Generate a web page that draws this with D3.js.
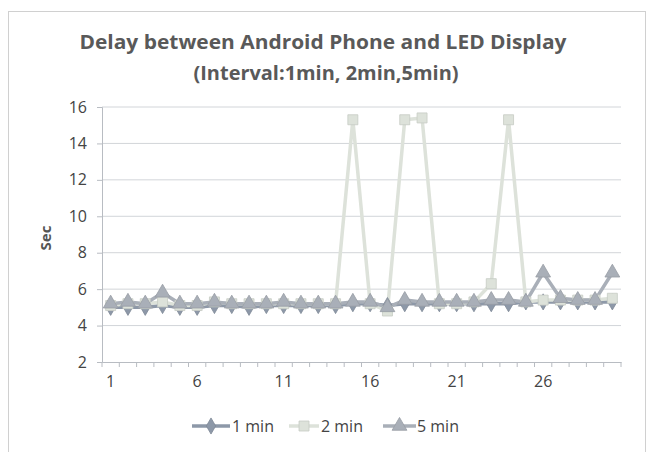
<!DOCTYPE html>
<html>
<head>
<meta charset="utf-8">
<script src="https://cdn.jsdelivr.net/npm/d3@7"></script>
<style>
  html, body { margin: 0; padding: 0; background: #fff; }
  svg { display: block; }
  text { font-family: "Open Sans", "Liberation Sans", sans-serif; }
</style>
</head>
<body>
<svg id="chart" width="647" height="452"></svg>
<script>
// Measurement index (1..30)
const categories = d3.range(1, 31);
const xTickLabels = [1, 6, 11, 16, 21, 26];
const yTicks = [2, 4, 6, 8, 10, 12, 14, 16];

// Delay in seconds per interval setting
const oneMin = [5.0, 5.0, 5.0, 5.1, 5.0, 5.0, 5.1, 5.1, 5.0, 5.1,
                5.1, 5.1, 5.1, 5.1, 5.2, 5.2, 5.1, 5.2, 5.2, 5.2,
                5.2, 5.2, 5.2, 5.2, 5.3, 5.3, 5.3, 5.3, 5.3, 5.3];
const twoMin = [5.1, 5.2, 5.2, 5.3, 5.1, 5.1, 5.3, 5.2, 5.2, 5.2,
                5.2, 5.2, 5.2, 5.2, 15.3, 5.2, 4.8, 15.3, 15.4, 5.2,
                5.2, 5.3, 6.3, 15.3, 5.3, 5.4, 5.4, 5.4, 5.4, 5.5];
const fiveMin = [5.2, 5.3, 5.2, 5.8, 5.2, 5.2, 5.3, 5.2, 5.2, 5.2,
                 5.3, 5.2, 5.2, 5.2, 5.3, 5.3, 5.0, 5.4, 5.3, 5.3,
                 5.3, 5.3, 5.4, 5.4, 5.3, 6.9, 5.5, 5.4, 5.4, 6.9];

const seriesNames = ["1 min", "2 min", "5 min"];

const series = [
  { name: seriesNames[0], values: oneMin,  color: "#8d98a8", marker: d3.symbolDiamond,  size: 75 },
  { name: seriesNames[1], values: twoMin,  color: "#dde2da", marker: d3.symbolSquare,   size: 100 },
  { name: seriesNames[2], values: fiveMin, color: "#a9afb8", marker: d3.symbolTriangle, size: 95 }
];

const svg = d3.select("#chart");

// outer frame
svg.append("rect")
  .attr("x", 8.5).attr("y", 11.5)
  .attr("width", 637).attr("height", 450)
  .attr("fill", "none").attr("stroke", "#d0d0d0").attr("stroke-width", 1);

const plot = { left: 102, right: 621, top: 107, bottom: 362 };

const x = d3.scaleBand().domain(categories).range([plot.left, plot.right]);
const y = d3.scaleLinear().domain([2, 16]).range([plot.bottom, plot.top]);
const cx = d => x(d) + x.bandwidth() / 2;

// horizontal gridlines
svg.append("g")
  .selectAll("line")
  .data(yTicks.filter(t => t > 2))
  .join("line")
  .attr("x1", plot.left).attr("x2", plot.right)
  .attr("y1", d => y(d)).attr("y2", d => y(d))
  .attr("stroke", "#d2d5d9").attr("stroke-width", 1);

// y axis
const yAxis = svg.append("g")
  .attr("transform", `translate(${plot.left},0)`)
  .call(d3.axisLeft(y).tickValues(yTicks).tickSize(5).tickPadding(10));
yAxis.select(".domain").attr("stroke", "#b8bcc2");
yAxis.selectAll(".tick line").attr("stroke", "#b8bcc2");
yAxis.selectAll("text").attr("font-size", 16).attr("fill", "#444");

// x axis
const xAxis = svg.append("g")
  .attr("transform", `translate(0,${plot.bottom})`)
  .call(d3.axisBottom(x).tickSize(0).tickFormat(d => xTickLabels.includes(d) ? d : "").tickPadding(14));
xAxis.select(".domain").attr("stroke", "#b8bcc2");
xAxis.selectAll("text").attr("font-size", 16).attr("fill", "#444");
// category boundary ticks
svg.append("g")
  .selectAll("line")
  .data(categories.concat([null]))
  .join("line")
  .attr("x1", (d, i) => i < categories.length ? x(d) : plot.right)
  .attr("x2", (d, i) => i < categories.length ? x(d) : plot.right)
  .attr("y1", plot.bottom).attr("y2", plot.bottom + 5)
  .attr("stroke", "#b8bcc2");

// lines and markers
const line = d3.line().x((d, i) => cx(categories[i])).y(d => y(d));

series.forEach(s => {
  svg.append("path")
    .datum(s.values)
    .attr("d", line)
    .attr("fill", "none")
    .attr("stroke", s.color)
    .attr("stroke-width", 3.5)
    .attr("stroke-linejoin", "round");
});
series.forEach(s => {
  svg.append("g")
    .selectAll("path")
    .data(s.values)
    .join("path")
    .attr("transform", (d, i) => `translate(${cx(categories[i])},${y(d)})`)
    .attr("d", d3.symbol().type(s.marker).size(s.size))
    .attr("fill", s.color)
    .attr("stroke", d3.color(s.color).darker(0.3))
    .attr("stroke-width", 0.8);
});

// title
svg.append("text")
  .attr("x", 323).attr("y", 49)
  .attr("text-anchor", "middle")
  .attr("font-size", 20).attr("font-weight", 700).attr("fill", "#595959")
  .attr("textLength", 487).attr("lengthAdjust", "spacingAndGlyphs")
  .text("Delay between Android Phone and LED Display");
svg.append("text")
  .attr("x", 326).attr("y", 80)
  .attr("text-anchor", "middle")
  .attr("font-size", 20).attr("font-weight", 700).attr("fill", "#595959")
  .attr("textLength", 265).attr("lengthAdjust", "spacingAndGlyphs")
  .text("(Interval:1min, 2min,5min)");

// y axis title
svg.append("text")
  .attr("transform", "translate(51,238) rotate(-90)")
  .attr("text-anchor", "middle")
  .attr("font-size", 15).attr("font-weight", 700).attr("fill", "#555")
  .text("Sec");

// legend
const legendItems = [
  { s: series[0], x0: 192, x1: 230, tx: 232 },
  { s: series[1], x0: 289, x1: 319, tx: 321 },
  { s: series[2], x0: 383, x1: 416, tx: 417 }
];
const lg = svg.append("g");
legendItems.forEach(it => {
  lg.append("line")
    .attr("x1", it.x0).attr("x2", it.x1)
    .attr("y1", 426).attr("y2", 426)
    .attr("stroke", it.s.color).attr("stroke-width", 3.5);
  lg.append("path")
    .attr("transform", `translate(${(it.x0 + it.x1) / 2},426)`)
    .attr("d", d3.symbol().type(it.s.marker).size(it.s.size))
    .attr("fill", it.s.color)
    .attr("stroke", d3.color(it.s.color).darker(0.3))
    .attr("stroke-width", 0.8);
  lg.append("text")
    .attr("x", it.tx).attr("y", 432)
    .attr("font-size", 16).attr("fill", "#444")
    .text(it.s.name);
});
</script>
</body>
</html>
